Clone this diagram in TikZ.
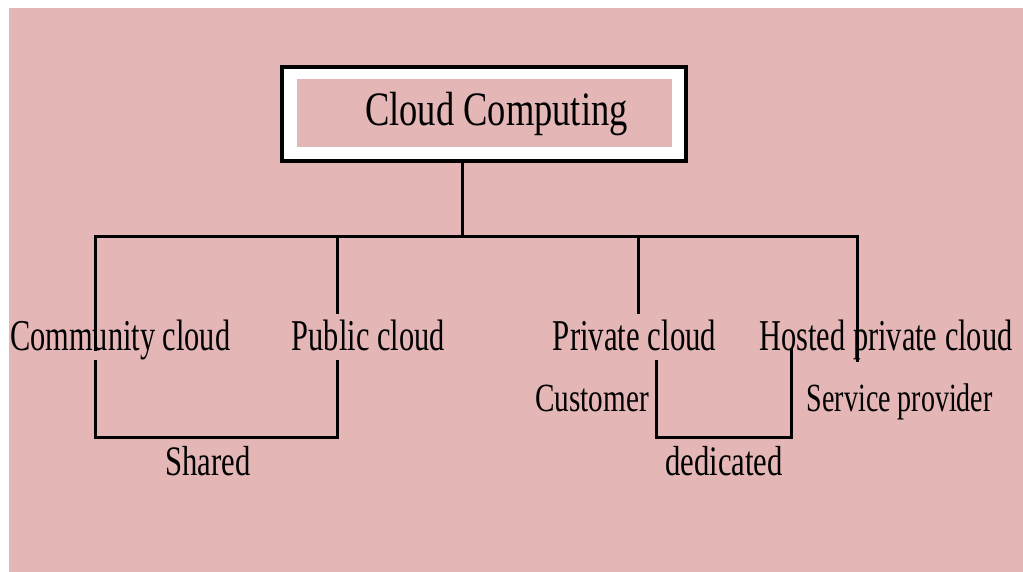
\documentclass[tikz,border=0pt]{standalone}
\usepackage{fontspec}
\setmainfont{Liberation Serif}
\usepackage{graphicx}
\definecolor{pinkbg}{RGB}{228,182,182}
\newcommand{\lab}[3]{\fontsize{#1}{#1}\selectfont\scalebox{#2}[1]{#3}}
\tikzset{
  conn/.style={line width=3pt, line cap=rect},
  txt/.style={inner sep=0pt, anchor=base west, text=black},
}
\begin{document}
\begin{tikzpicture}[x=1pt,y=-1pt]
\useasboundingbox (0,0) rectangle (1023,572);
\fill[white] (0,0) rectangle (1023,572);
\fill[pinkbg] (9,8) rectangle (1023,572);
% title box
\node[draw, line width=4pt, fill=white, minimum width=404pt, minimum height=94pt, inner sep=0pt] (cc) at (484,114) {};
\node[fill=pinkbg, minimum width=375pt, minimum height=68pt, inner sep=0pt] (inner) at (484.3,112.9) {};
\node[txt] (title) at (365,125.7) {\lab{48}{0.76}{Cloud Computing}};
% coordinates
\coordinate (bus) at (462.7,236.5);
\coordinate (busL) at (95,236.5);
\coordinate (busR) at (857,236.5);
\coordinate (pubT) at (337,236.5);
\coordinate (privT) at (638.5,236.5);
\coordinate (commB) at (95,349);
\coordinate (pubB) at (337,312.5);
\coordinate (privB) at (638.5,312.5);
\coordinate (hostB) at (857,360);
\coordinate (shL) at (95,361);
\coordinate (shR) at (337,361);
\coordinate (shBL) at (95,437);
\coordinate (shBR) at (337,437);
\coordinate (deL) at (656,361);
\coordinate (deR) at (791.7,349);
\coordinate (deBL) at (656,437);
\coordinate (deBR) at (791.7,437);
% connectors
\draw[conn] (bus) -- (bus |- cc.south);
\draw[conn] (busL) -- (busR);
\draw[conn] (busL) -- (commB);
\draw[conn] (pubT) -- (pubB);
\draw[conn] (privT) -- (privB);
\draw[conn] (busR) -- (hostB);
\draw[conn] (shL) -- (shBL) -- (shBR) -- (shR);
\draw[conn] (deL) -- (deBL) -- (deBR) -- (deR);
% labels
\node[txt] (comm) at (10,350) {\lab{44}{0.69}{Community cloud}};
\node[txt] (pub) at (291.7,350) {\lab{44}{0.69}{Public cloud}};
\node[txt] (priv) at (552.7,350) {\lab{44}{0.70}{Private cloud}};
\node[txt] (host) at (759.3,350) {\lab{44}{0.69}{Hosted private cloud}};
\node[txt] (cust) at (535,411.7) {\lab{40}{0.73}{Customer}};
\node[txt] (serv) at (806.7,411.7) {\lab{40}{0.70}{Service provider}};
\node[txt] (shared) at (165,475) {\lab{42}{0.73}{Shared}};
\node[txt] (ded) at (665,475) {\lab{42}{0.73}{dedicated}};
\end{tikzpicture}
\end{document}
